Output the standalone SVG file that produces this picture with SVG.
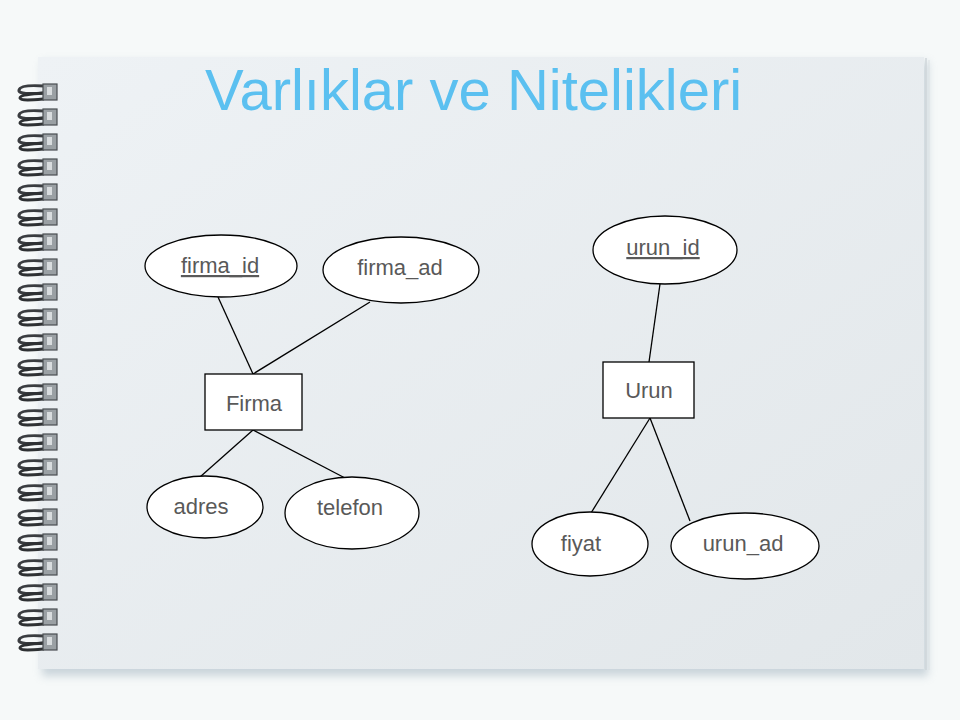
<svg xmlns="http://www.w3.org/2000/svg" xmlns:xlink="http://www.w3.org/1999/xlink" width="960" height="720" viewBox="0 0 960 720">
<style>
.attr{fill:#fff;stroke:#000;stroke-width:1.3}
.ent{fill:#fff;stroke:#000;stroke-width:1.3}
.lbl{font-family:"Liberation Sans",Arial,sans-serif;font-size:22px;fill:#595959;text-anchor:middle}
.conn line{stroke:#000;stroke-width:1.3}
</style>
<defs>
<linearGradient id="pg" x1="0" y1="0" x2="1" y2="1">
<stop offset="0" stop-color="#eef2f5"/>
<stop offset="1" stop-color="#e2e7ea"/>
</linearGradient>
<filter id="sh" x="-5%" y="-5%" width="110%" height="115%">
<feGaussianBlur stdDeviation="4"/>
</filter>
<g id="ring">
<path d="M44 -6 C30 -7 20 -6 19 -2 C18 2 30 2 44 1" fill="none" stroke="#3a3d40" stroke-width="3"/>
<path d="M44 1 C30 2 20 3 20 6 C21 9 32 8 44 7" fill="none" stroke="#2e3133" stroke-width="3"/>
<rect x="43" y="-8" width="14" height="16" fill="#9aa0a4" stroke="#4a4e52" stroke-width="1.2"/>
<rect x="47" y="-5" width="5" height="8" fill="#d8dcde"/>
</g>
</defs>
<rect width="960" height="720" fill="#f6f9f9"/>
<rect x="42" y="62" width="886" height="614" fill="#9fb1bd" opacity="0.5" filter="url(#sh)"/>
<rect x="38" y="57" width="886" height="612" fill="url(#pg)"/>
<line x1="926" y1="58" x2="926" y2="670" stroke="#cfd6da" stroke-width="1.5"/>
<line x1="929" y1="60" x2="929" y2="670" stroke="#dbe1e4" stroke-width="1"/>
<g id="binding">
<use xlink:href="#ring" y="92"/><use xlink:href="#ring" y="117"/><use xlink:href="#ring" y="142"/><use xlink:href="#ring" y="167"/><use xlink:href="#ring" y="192"/><use xlink:href="#ring" y="217"/><use xlink:href="#ring" y="242"/><use xlink:href="#ring" y="267"/><use xlink:href="#ring" y="292"/><use xlink:href="#ring" y="317"/><use xlink:href="#ring" y="342"/><use xlink:href="#ring" y="367"/><use xlink:href="#ring" y="392"/><use xlink:href="#ring" y="417"/><use xlink:href="#ring" y="442"/><use xlink:href="#ring" y="467"/><use xlink:href="#ring" y="492"/><use xlink:href="#ring" y="517"/><use xlink:href="#ring" y="542"/><use xlink:href="#ring" y="567"/><use xlink:href="#ring" y="592"/><use xlink:href="#ring" y="617"/><use xlink:href="#ring" y="642"/>
</g>
<text x="205" y="110" font-family="Liberation Sans,Arial,sans-serif" font-size="58" fill="#5bc0f0">Varlıklar ve Nitelikleri</text>
<g class="conn" id="connectors">
<line x1="218" y1="297" x2="253" y2="374"/>
<line x1="370" y1="302" x2="253" y2="374"/>
<line x1="253" y1="430" x2="200" y2="477"/>
<line x1="253" y1="430" x2="345" y2="478"/>
<line x1="660" y1="284" x2="649" y2="362"/>
<line x1="650" y1="418" x2="591" y2="513"/>
<line x1="650" y1="418" x2="690" y2="521"/>
</g>
<g id="firma_id"><ellipse class="attr" cx="221" cy="266" rx="76" ry="31"/><text class="lbl" x="220" y="273" text-decoration="underline">firma_id</text></g>
<g id="firma_ad"><ellipse class="attr" cx="401" cy="270" rx="78" ry="33"/><text class="lbl" x="400" y="275">firma_ad</text></g>
<g id="urun_id"><ellipse class="attr" cx="665" cy="250" rx="72" ry="34"/><text class="lbl" x="663" y="255" text-decoration="underline">urun_id</text></g>
<g id="Firma"><rect class="ent" x="205" y="374" width="97" height="56"/><text class="lbl" x="254" y="411">Firma</text></g>
<g id="Urun"><rect class="ent" x="603" y="362" width="91" height="56"/><text class="lbl" x="649" y="398">Urun</text></g>
<g id="adres"><ellipse class="attr" cx="205" cy="507" rx="58" ry="31"/><text class="lbl" x="201" y="514">adres</text></g>
<g id="telefon"><ellipse class="attr" cx="352" cy="513" rx="67" ry="36"/><text class="lbl" x="350" y="515">telefon</text></g>
<g id="fiyat"><ellipse class="attr" cx="590" cy="544" rx="58" ry="32"/><text class="lbl" x="581" y="551">fiyat</text></g>
<g id="urun_ad"><ellipse class="attr" cx="745" cy="546" rx="74" ry="33"/><text class="lbl" x="743" y="551">urun_ad</text></g>
</svg>
